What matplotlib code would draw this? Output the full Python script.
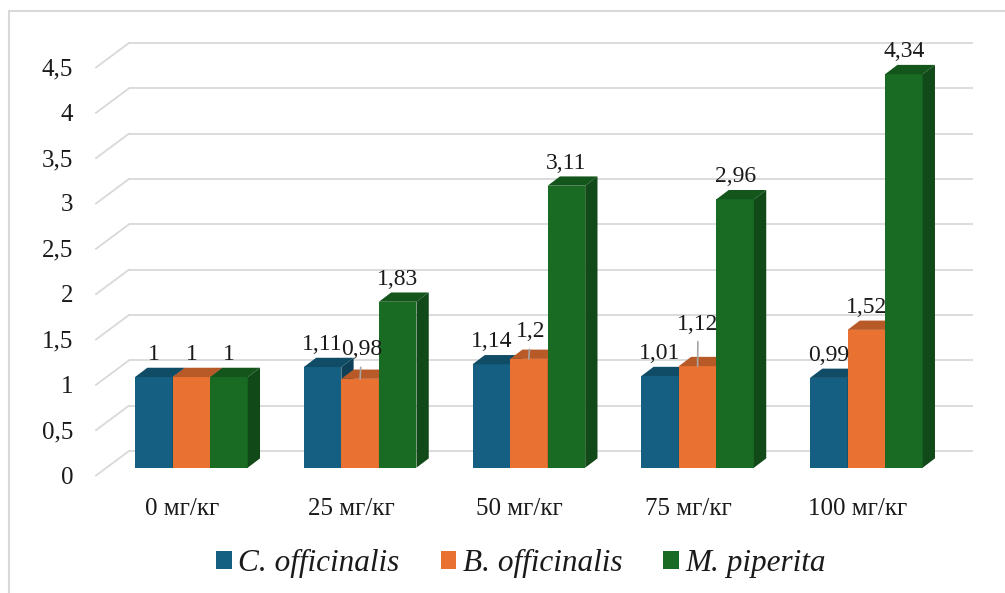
import matplotlib
matplotlib.use("Agg")
import matplotlib.pyplot as plt
from matplotlib.patches import Polygon, Patch, Rectangle
from matplotlib.colors import to_rgb

# ---- data ----
categories = ["0 мг/кг", "25 мг/кг", "50 мг/кг", "75 мг/кг", "100 мг/кг"]
series_names = ["C. officinalis", "B. officinalis", "M. piperita"]
c_officinalis = [1.00, 1.11, 1.14, 1.01, 0.99]
b_officinalis = [1.00, 0.98, 1.20, 1.12, 1.52]
m_piperita = [1.00, 1.83, 3.11, 2.96, 4.34]
y_ticks = [0, 0.5, 1, 1.5, 2, 2.5, 3, 3.5, 4, 4.5]
y_tick_labels = ["0", "0,5", "1", "1,5", "2", "2,5", "3", "3,5", "4", "4,5"]

series_values = [c_officinalis, b_officinalis, m_piperita]
colors = ["#156082", "#E97132", "#196B24"]

# label nudges (pixels) for crowded value labels that get a leader line
label_nudge = {(1, 1): (1.5, 29), (2, 1): (1.5, 27), (3, 1): (0.5, 42)}

plt.rcParams["font.family"] = ["Liberation Serif", "DejaVu Serif"]
TXT = "#1a1a1a"

DPI = 100
W, H = 1005, 593
fig = plt.figure(figsize=(W / DPI, H / DPI), dpi=DPI)
fig.patch.set_facecolor("white")

# axes frame = front plane of the bars
left_px, right_px, base_px, unit_px = 107.0, 950.7, 467.7, 90.67
ymax = 4.5
ax = fig.add_axes([left_px / W, (H - base_px) / H,
                   (right_px - left_px) / W, ymax * unit_px / H])
xmin, xmax = -0.5, len(categories) - 0.5
ax.set_xlim(xmin, xmax)
ax.set_ylim(0, ymax)
ax.axis("off")

PX_X = (right_px - left_px) / (xmax - xmin)
PX_Y = unit_px


def px2d(dx, dy):
    return dx / PX_X, dy / PX_Y


# depth vectors (pixels): bar depth, back wall, front edge of floor
bdx, bdy = px2d(12.3, 9.3)
wdx, wdy = px2d(22.0, 16.7)
fdx, fdy = px2d(-11.0, -7.8)

grid_col = "#D9D9D9"
for v, lab in zip(y_ticks, y_tick_labels):
    ax.plot([xmin + wdx, xmax + wdx], [v + wdy, v + wdy], color=grid_col,
            lw=1.3, zorder=1, clip_on=False, solid_capstyle="butt")
    ax.plot([xmin + fdx, xmin + wdx], [v + fdy, v + wdy], color=grid_col,
            lw=1.3, zorder=1, clip_on=False)
    ax.annotate(lab, xy=(xmin + fdx, v + fdy), xytext=(-23 * 0.72, -2 * 0.72),
                textcoords="offset points", ha="right", va="center",
                fontsize=18, color=TXT, annotation_clip=False)


def shade(c, f):
    r, g, b = to_rgb(c)
    return (r * f, g * f, b * f)


bw = 0.2226
for i in range(len(categories)):
    for s, vals in enumerate(series_values):
        v = vals[i]
        xc = i + (s - 1) * bw
        x0, x1 = xc - bw / 2, xc + bw / 2
        z = 3 + s
        ax.bar(xc, v, width=bw, color=colors[s], zorder=z, clip_on=False,
               linewidth=0)
        top = Polygon([(x0, v), (x1, v), (x1 + bdx, v + bdy), (x0 + bdx, v + bdy)],
                      closed=True, fc=shade(colors[s], 0.79), ec="none",
                      zorder=z, clip_on=False)
        side = Polygon([(x1, 0), (x1 + bdx, bdy), (x1 + bdx, v + bdy), (x1, v)],
                       closed=True, fc=shade(colors[s], 0.68), ec="none",
                       zorder=z, clip_on=False)
        ax.add_patch(top)
        ax.add_patch(side)

        txt = f"{v:g}".replace(".", ",")
        if (i, s) in label_nudge:
            nx, ny = label_nudge[(i, s)]
            ax.annotate(txt, xy=(xc, v), xytext=(nx * 0.72, ny * 0.72),
                        textcoords="offset points", ha="center", va="center",
                        fontsize=17, color=TXT, zorder=10,
                        annotation_clip=False,
                        arrowprops=dict(arrowstyle="-", color="#A6A6A6",
                                        lw=1.2, shrinkA=3, shrinkB=0))
        else:
            ax.annotate(txt, xy=(xc, v), xytext=(0, 22.5 * 0.72),
                        textcoords="offset points", ha="center", va="center",
                        fontsize=17, color=TXT, zorder=10,
                        annotation_clip=False)

for i, cat in enumerate(categories):
    ax.annotate(cat, xy=(i + fdx, 0), xytext=(2 * 0.72, -41 * 0.72),
                textcoords="offset points", ha="center", va="center",
                fontsize=18, color=TXT, annotation_clip=False)

handles = [Patch(facecolor=c, edgecolor="none") for c in colors]
fig.legend(handles, series_names, loc="center",
           bbox_to_anchor=(521 / W, 1 - 563.5 / H), ncol=3, frameon=False,
           prop={"family": "Liberation Serif", "style": "italic", "size": 22.5},
           handlelength=0.5, handleheight=0.5, handletextpad=0.2,
           columnspacing=1.32, labelcolor=TXT)

fig.add_artist(Rectangle((9 / W, -0.1), 1.2, 1 - 11 / H + 0.1,
                         transform=fig.transFigure, fill=False,
                         ec="#D9D9D9", lw=1.5))

fig.savefig("out.png", dpi=DPI)
